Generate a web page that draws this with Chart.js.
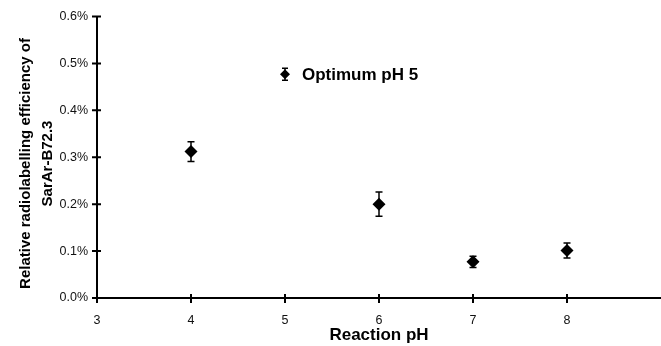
<!DOCTYPE html>
<html>
<head>
<meta charset="utf-8">
<script src="https://cdn.jsdelivr.net/npm/chart.js@4"></script>
<style>
html,body{margin:0;padding:0;background:#fff;}
#wrap{width:661px;height:346px;position:relative;}
</style>
</head>
<body>
<div id="wrap"><canvas id="c" width="661" height="346"></canvas></div>
<script>
const phValues = [4, 6, 7, 8];
const efficiency = [0.312, 0.200, 0.077, 0.101];
const errors = [0.021, 0.026, 0.012, 0.016];
const legendLabel = 'Optimum pH 5';
const legendAnchor = [5, 0.477];
const xTitle = 'Reaction pH';
const yTitle = ['Relative radiolabelling efficiency of', 'SarAr-B72.3'];

const FONT = '"Liberation Sans", Arial, sans-serif';

const errorBars = {
  id: 'errorBars',
  afterDatasetsDraw(chart) {
    const ctx = chart.ctx, xs = chart.scales.x, ys = chart.scales.y;
    ctx.save();
    ctx.strokeStyle = '#000';
    ctx.lineWidth = 1.5;
    phValues.forEach((p, i) => {
      const x = xs.getPixelForValue(p);
      const yt = ys.getPixelForValue(efficiency[i] + errors[i]);
      const yb = ys.getPixelForValue(efficiency[i] - errors[i]);
      ctx.beginPath();
      ctx.moveTo(x, yt); ctx.lineTo(x, yb);
      ctx.moveTo(x - 3.5, yt); ctx.lineTo(x + 3.5, yt);
      ctx.moveTo(x - 3.5, yb); ctx.lineTo(x + 3.5, yb);
      ctx.stroke();
    });
    ctx.restore();
  }
};

const crossTicks = {
  id: 'crossTicks',
  afterDraw(chart) {
    const ctx = chart.ctx, xs = chart.scales.x, ys = chart.scales.y;
    const ca = chart.chartArea;
    ctx.save();
    ctx.strokeStyle = '#000';
    ctx.lineWidth = 2;
    ctx.beginPath();
    xs.ticks.forEach(t => {
      const x = xs.getPixelForValue(t.value);
      if (x > ca.right - 2) return;
      ctx.moveTo(x, ca.bottom - 4); ctx.lineTo(x, ca.bottom + 5);
    });
    ys.ticks.forEach(t => {
      const y = ys.getPixelForValue(t.value);
      ctx.moveTo(ca.left - 5, y); ctx.lineTo(ca.left + 4, y);
    });
    ctx.stroke();
    // legend
    const lx = xs.getPixelForValue(legendAnchor[0]);
    const ly = ys.getPixelForValue(legendAnchor[1]);
    ctx.fillStyle = '#000';
    ctx.beginPath();
    ctx.moveTo(lx, ly - 5); ctx.lineTo(lx + 5, ly); ctx.lineTo(lx, ly + 5); ctx.lineTo(lx - 5, ly);
    ctx.closePath(); ctx.fill();
    ctx.lineWidth = 1.5;
    ctx.beginPath();
    ctx.moveTo(lx, ly - 6); ctx.lineTo(lx, ly + 6);
    ctx.moveTo(lx - 3, ly - 6); ctx.lineTo(lx + 3, ly - 6);
    ctx.moveTo(lx - 3, ly + 6); ctx.lineTo(lx + 3, ly + 6);
    ctx.stroke();
    ctx.font = 'bold 17px ' + FONT;
    ctx.textBaseline = 'middle';
    ctx.textAlign = 'left';
    ctx.fillText(legendLabel, lx + 17, ly + 1);
    ctx.restore();
  }
};

new Chart(document.getElementById('c'), {
  type: 'scatter',
  data: {
    datasets: [{
      label: legendLabel,
      data: phValues.map((p, i) => ({x: p, y: efficiency[i]})),
      pointStyle: 'rectRot',
      pointRadius: 6.5,
      pointHoverRadius: 6.5,
      backgroundColor: '#000',
      borderColor: '#000',
      borderWidth: 0
    }]
  },
  options: {
    responsive: false,
    animation: false,
    layout: {autoPadding: false, padding: {top: 15, right: -3, bottom: 0, left: 0}},
    plugins: {legend: {display: false}, tooltip: {enabled: false}},
    scales: {
      x: {
        type: 'linear', min: 3, max: 9,
        ticks: {stepSize: 1, padding: 15, color: '#111', font: {family: FONT, size: 12.5},
          callback: v => (v === 9 ? '' : String(v))},
        grid: {display: false, drawTicks: false},
        border: {display: true, color: '#000', width: 2},
        title: {display: true, text: xTitle, color: '#000', font: {family: FONT, size: 17, weight: 'bold'}, padding: {top: 0, bottom: 0}},
        afterFit: s => { s.height = 48; s.paddingRight = 0; s.paddingLeft = 0; }
      },
      y: {
        min: 0, max: 0.6,
        ticks: {stepSize: 0.1, padding: 9, color: '#111', font: {family: FONT, size: 12.5},
          callback: v => v.toFixed(1) + '%'},
        grid: {display: false, drawTicks: false},
        border: {display: true, color: '#000', width: 2},
        title: {display: true, text: yTitle.map(t => t + '   '), color: '#000', font: {family: FONT, size: 15, weight: 'bold', lineHeight: 1.45}, padding: {top: 15, bottom: 0}},
        afterFit: s => { s.width = 97; }
      }
    }
  },
  plugins: [errorBars, crossTicks]
});
</script>
</body>
</html>
